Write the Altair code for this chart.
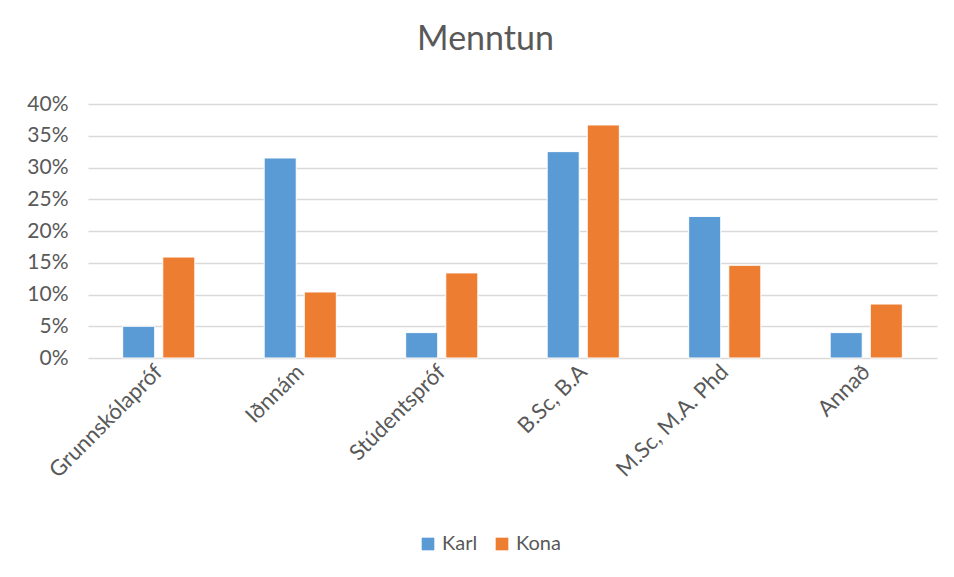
import altair as alt
import pandas as pd

categories = ["Grunnskólapróf", "Iðnnám", "Stúdentspróf", "B.Sc, B.A", "M.Sc, M.A. Phd", "Annað"]
karl = [0.050, 0.315, 0.040, 0.325, 0.223, 0.040]
kona = [0.159, 0.104, 0.134, 0.367, 0.146, 0.085]
series = ["Karl", "Kona"]
colors = ["#5B9BD5", "#ED7D31"]
y_ticks = [0, 0.05, 0.10, 0.15, 0.20, 0.25, 0.30, 0.35, 0.40]

rows = []
for c, k, w in zip(categories, karl, kona):
    rows.append({"Menntun": c, "Kyn": "Karl", "Hlutfall": k})
    rows.append({"Menntun": c, "Kyn": "Kona", "Hlutfall": w})
df = pd.DataFrame(rows)

FONT = "Lato"
TXT = "#595959"

chart = alt.Chart(df).mark_bar(stroke="white", strokeWidth=1).encode(
    x=alt.X("Menntun:N", sort=categories,
            scale=alt.Scale(paddingInner=0.49, paddingOuter=0.245),
            axis=alt.Axis(title=None, labelAngle=-45, labelAlign="right", labelBaseline="middle",
                          labelPadding=10, ticks=False, domain=False, grid=False,
                          labelFontSize=22, labelColor=TXT, labelFont=FONT)),
    xOffset=alt.XOffset("Kyn:N", sort=series, scale=alt.Scale(paddingInner=0.2, paddingOuter=0)),
    y=alt.Y("Hlutfall:Q", scale=alt.Scale(domain=[0, 0.4]),
            axis=alt.Axis(title=None, values=y_ticks, format=".0%", ticks=False, domain=False,
                          gridColor="#D9D9D9", gridWidth=1.5, labelPadding=20,
                          labelFontSize=21, labelColor=TXT, labelFont=FONT)),
    color=alt.Color("Kyn:N", sort=series, scale=alt.Scale(domain=series, range=colors),
                    legend=alt.Legend(title=None, orient="none", direction="horizontal",
                                      legendX=330, legendY=430, symbolType="square",
                                      symbolSize=160, symbolStrokeWidth=0, symbolOpacity=1,
                                      labelFontSize=20, labelColor=TXT, labelFont=FONT,
                                      columnPadding=14, labelOffset=4)),
).properties(
    width=849,
    height=254,
    background="white",
    title=alt.TitleParams("Menntun", fontSize=34, font=FONT, color=TXT, fontWeight="normal",
                          anchor="middle", dx=-27, offset=36),
    autosize=alt.AutoSizeParams(type="none"),
    padding={"left": 80, "top": 96, "right": 9, "bottom": 211},
).configure_view(strokeWidth=0)

chart.save("out.html", embed_options={"renderer": "svg", "actions": False})
